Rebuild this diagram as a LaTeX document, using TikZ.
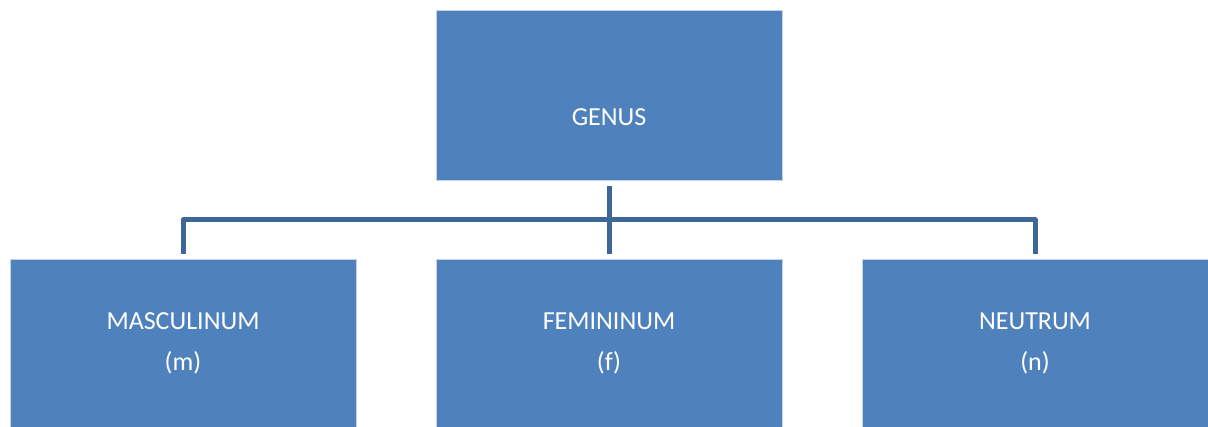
\documentclass[tikz,border=0pt]{standalone}
\usepackage{fontspec}
\setmainfont{Carlito}
\begin{document}
\begin{tikzpicture}[x=1pt,y=-1pt,
  box/.style={rectangle, fill=boxblue, draw=boxedge, line width=0.8pt,
    minimum width=346pt, text=white, align=center, inner sep=0pt,
    font=\fontsize{26}{41}\selectfont},
  conn/.style={draw=linkblue, line width=5pt, line join=round}]
\definecolor{boxblue}{HTML}{4F81BD}
\definecolor{boxedge}{HTML}{C6D6EA}
\definecolor{linkblue}{HTML}{3C6796}
\useasboundingbox (0,0) rectangle (1208,427);
% parent box with its label set a little below centre
\node[box, minimum height=170pt] (genus) at (609,95) {};
\node[text=white, font=\fontsize{26}{41}\selectfont] (genustext) at (609,117) {GENUS};
% the three children
\node[box, minimum height=168pt] (masc) at (183,343) {MASCULINUM\\(m)};
\node[box, minimum height=168pt] (fem) at (609,343) {FEMININUM\\(f)};
\node[box, minimum height=168pt] (neut) at (1035,343) {NEUTRUM\\(n)};
% connectors
\coordinate (bar) at (0,220);
\draw[conn] ([yshift=-6pt]genus.south) -- ([yshift=5pt]fem.north);
\draw[conn] ([yshift=5pt]masc.north) -- (masc.north |- bar) -- (neut.north |- bar) -- ([yshift=5pt]neut.north);
\end{tikzpicture}
\end{document}
